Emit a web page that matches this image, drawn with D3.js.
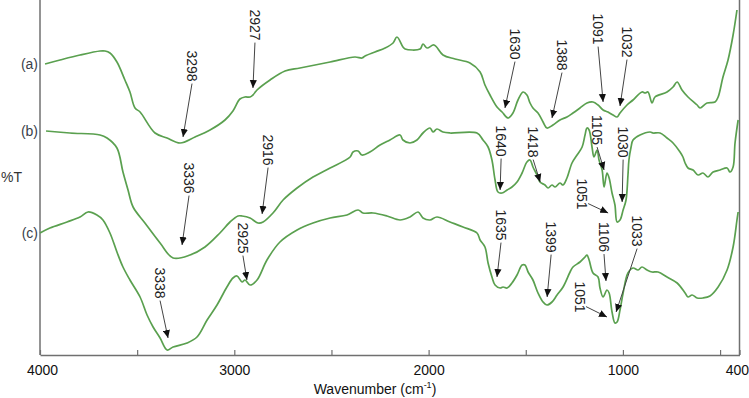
<!DOCTYPE html>
<html><head><meta charset="utf-8">
<script src="https://cdn.jsdelivr.net/npm/d3@7"></script>
<style>
html,body{margin:0;padding:0;background:#fff;}
svg{display:block;font-family:"Liberation Sans",Arial,sans-serif;}
</style></head>
<body>
<svg id="chart" width="749" height="398"></svg>
<script>
// ---- data (wavenumber in cm-1, transmittance in arbitrary units) ----
const xTicksMajor = [4000, 3000, 2000, 1000, 400];
const xTicksMinor = [3500, 2500, 1500, 500];
const seriesLabels = ["(a)", "(b)", "(c)"];

const aWave = [3974,3897,3794,3691,3665,3640,3604,3563,3537,3511,3485,3408,3346,3279,3202,3125,3048,3007,2971,2945,2919,2904,2883,2816,2739,2662,2507,2379,2343,2327,2276,2224,2183,2163,2132,2121,2044,2029,2008,1972,1926,1864,1787,1735,1710,1684,1648,1622,1591,1566,1540,1514,1494,1478,1463,1437,1411,1391,1360,1324,1288,1257,1221,1185,1154,1128,1102,1077,1051,1030,1015,979,948,902,886,871,850,835,773,742,721,696,665,618,603,567,526,510,485,459,433,413];
const aT    = [291,295,300,304,304,302,293,275,263,247,243,222,217,212,218,225,235,244,256,258,258,260,265,275,284,287,293,298,297,299,303,307,312,318,308,306,306,311,307,310,300,296,292,283,270,260,248,243,237,242,255,263,260,252,247,242,233,227,230,235,238,242,247,252,253,250,245,243,240,238,242,250,255,263,262,263,252,258,263,268,273,265,258,250,247,252,253,258,278,295,320,345];

const bWave = [3969,3846,3691,3655,3604,3573,3547,3521,3460,3382,3315,3228,3151,3074,3022,2981,2960,2919,2878,2852,2801,2749,2677,2595,2507,2404,2389,2363,2343,2302,2250,2199,2147,2132,2096,2060,2029,1993,1977,1957,1926,1890,1751,1720,1694,1674,1658,1643,1622,1596,1571,1545,1519,1494,1478,1463,1442,1427,1401,1385,1365,1349,1324,1308,1288,1262,1236,1210,1195,1185,1174,1159,1149,1133,1123,1107,1097,1082,1071,1056,1041,1030,1015,999,984,974,969,958,948,912,860,845,809,773,742,706,691,680,665,639,613,588,562,536,500,464,449,433,423,407];
const bT    = [224,222,220,217,207,183,165,148,132,112,97,100,108,122,133,139,139,137,132,133,142,155,167,178,187,198,203,204,200,203,210,215,220,215,212,215,222,227,223,226,223,222,222,215,208,195,175,163,162,165,168,173,182,193,195,188,180,173,170,167,170,168,172,170,177,192,200,208,220,227,225,208,198,205,195,185,168,182,177,162,150,133,135,145,155,180,195,208,215,220,223,222,222,217,212,203,198,192,187,185,180,182,178,183,185,187,183,188,212,235];

const cWave = [4000,3949,3861,3794,3753,3707,3676,3640,3604,3573,3537,3485,3449,3418,3382,3346,3315,3243,3192,3140,3089,3038,3007,2986,2960,2945,2919,2883,2832,2765,2677,2595,2507,2420,2363,2338,2286,2214,2147,2096,2054,2029,1993,1957,1890,1823,1751,1735,1710,1694,1674,1658,1632,1617,1596,1571,1545,1519,1504,1488,1463,1437,1411,1391,1365,1339,1308,1272,1257,1221,1195,1185,1174,1154,1128,1118,1102,1082,1071,1056,1041,1030,1015,999,974,948,922,902,876,850,819,773,721,680,665,644,618,588,552,510,464,433,413,407];
const cT    = [122,127,133,138,143,140,135,122,103,88,75,58,40,28,17,5,8,12,18,35,50,68,77,79,73,75,70,75,95,113,125,132,137,140,145,142,142,139,135,138,143,137,135,138,133,128,122,115,108,92,78,70,67,68,67,72,80,90,90,83,75,62,53,50,53,60,68,83,88,93,98,100,95,82,78,67,58,65,62,43,32,33,45,62,82,87,85,88,85,83,83,78,72,62,58,60,57,57,59,68,85,108,135,143];

// annotations: label, tip (wavenumber, T)
const annLabels = ["3298","2927","3336","2916","3338","2925","1630","1388","1091","1032","1640","1418","1105","1030","1051","1635","1399","1106","1033","1051"];
const annWave   = [3264,2904,3269,2857,3341,2935,1607,1365,1102,1015,1632,1426,1097,1004,1076,1648,1390,1087,1035,1082];
const annT      = [218,267,110,141,17,75,247,237,253,249,165,173,185,153,142,78,58,74,43,38];
// label offsets from tip (layout, px)
const annDx = [9,2,7,6,-8,-4,10,10,-5,7,1,-7,-7,1,-26,4,4,-2,21,-27];
const annDy = [-71,-63,-67,-64,-55,-42,-64,-63,-73,-64,-49,-40,-40,-60,-19,-52,-60,-44,-81,-20];

// ---- layout ----
const svg = d3.select("#chart");
const mLeft = 40, mRight = 739.5, mTop = 0, mBottom = 355;
const x = d3.scaleLinear().domain([4000, 400]).range([mLeft, mRight]);
const y = d3.scaleLinear().domain([0, 355]).range([mBottom, mTop]);
const green = "#5aa04f";
const axisCol = "#707070";

svg.append("defs").append("marker")
  .attr("id","ah").attr("viewBox","0 0 10 10").attr("refX",10).attr("refY",5)
  .attr("markerWidth",8).attr("markerHeight",8).attr("markerUnits","userSpaceOnUse")
  .attr("orient","auto")
  .append("path").attr("d","M0,0.5 L10,5 L0,9.5 Z").attr("fill","#111");

// frame lines
svg.append("line").attr("x1",mLeft).attr("x2",mLeft).attr("y1",0).attr("y2",mBottom)
  .attr("stroke",axisCol).attr("stroke-width",1.5);
svg.append("line").attr("x1",mRight).attr("x2",mRight).attr("y1",0).attr("y2",mBottom)
  .attr("stroke",axisCol).attr("stroke-width",1.5);

// x axis
const xAxis = d3.axisBottom(x).tickValues(xTicksMajor).tickSizeInner(-5).tickSizeOuter(0).tickPadding(10)
  .tickFormat(d3.format("d"));
const gx = svg.append("g").attr("transform",`translate(0,${mBottom})`).call(xAxis);
gx.select(".domain").attr("stroke",axisCol).attr("stroke-width",1.5);
gx.selectAll(".tick line").attr("stroke",axisCol).attr("stroke-width",1.2);
gx.selectAll(".tick text").attr("font-size",14).attr("fill","#111")
  .attr("font-family","'Liberation Sans',Arial,sans-serif");
gx.selectAll(".tick text").filter(d=>d===400).attr("text-anchor","end").attr("x",9);
gx.selectAll(".tick text").filter(d=>d===4000).attr("x",2);
const gxm = svg.append("g").attr("transform",`translate(0,${mBottom})`)
  .call(d3.axisBottom(x).tickValues(xTicksMinor).tickSizeInner(-5).tickSizeOuter(0).tickFormat(""));
gxm.select(".domain").remove();
gxm.selectAll(".tick line").attr("stroke",axisCol).attr("stroke-width",1.2);

// axis titles
const xt = svg.append("text").attr("x",375).attr("y",394).attr("text-anchor","middle")
  .attr("font-size",14).attr("fill","#111");
xt.append("tspan").text("Wavenumber (cm");
xt.append("tspan").attr("font-size",9).attr("dy",-6).text("-1");
xt.append("tspan").attr("dy",6).text(")");
svg.append("text").attr("x",1).attr("y",182).attr("font-size",14).attr("fill","#333").text("%T");

// curves
const line = d3.line().x(d=>x(d[0])).y(d=>y(d[1])).curve(d3.curveCatmullRom.alpha(0.5));
const series = [[aWave,aT],[bWave,bT],[cWave,cT]];
series.forEach(([w,t])=>{
  svg.append("path").datum(w.map((v,i)=>[v,t[i]]))
    .attr("d",line).attr("fill","none").attr("stroke",green).attr("stroke-width",1.7)
    .attr("stroke-linejoin","round");
});

// series labels at start of curves
series.forEach(([w,t],i)=>{
  svg.append("text").attr("x",mLeft-2).attr("y",y(t[0])+5)
    .attr("text-anchor","end").attr("font-size",14).attr("fill","#3a3f4a").text(seriesLabels[i]);
});

// annotations
annLabels.forEach((lab,i)=>{
  const tx = x(annWave[i]), ty = y(annT[i]);
  const cx = tx + annDx[i], cy = ty + annDy[i];
  const t = svg.append("text").attr("transform",`translate(${cx},${cy}) rotate(90)`)
    .attr("text-anchor","middle").attr("dy","0.35em").attr("font-size",14).attr("fill","#222").text(lab);
  const half = t.node().getComputedTextLength()/2;
  let sx = cx, sy = cy + half + 2;
  if (Math.abs(annDx[i]) > 15 && annDy[i] > -30) { sx = cx + 6; sy = cy + half - 6; }
  svg.append("line").attr("x1",sx).attr("y1",sy).attr("x2",tx).attr("y2",ty)
    .attr("stroke","#444").attr("stroke-width",1).attr("marker-end","url(#ah)");
});
</script>
</body></html>
